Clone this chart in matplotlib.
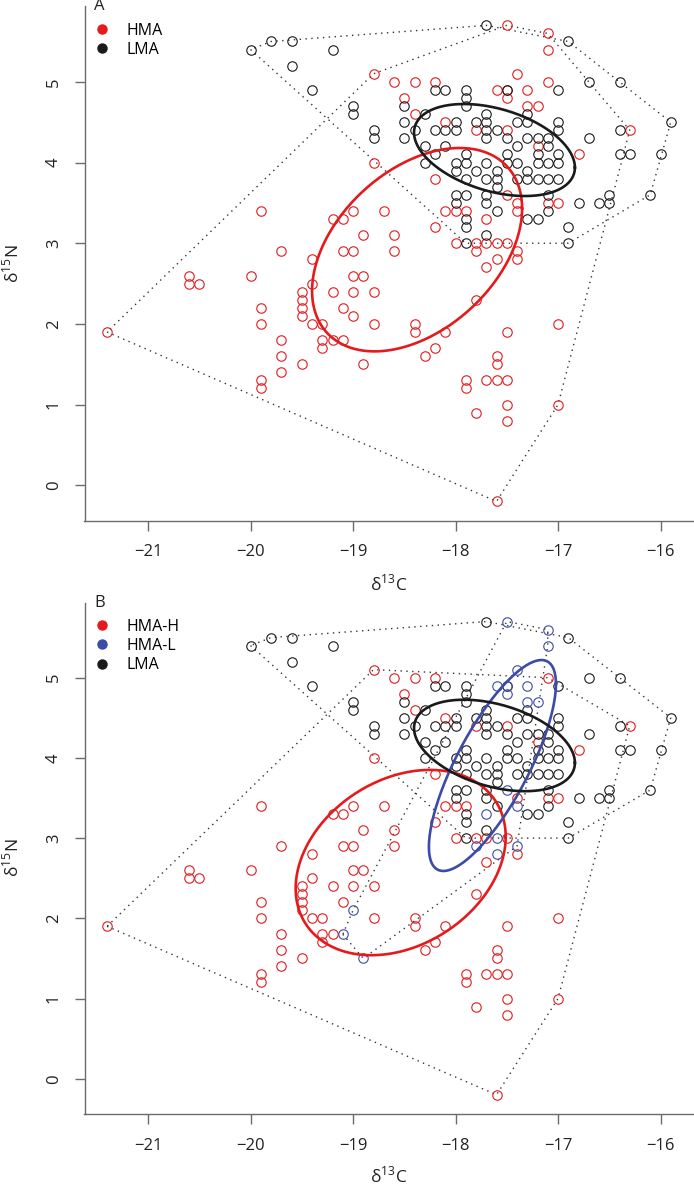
import matplotlib.pyplot as plt
import numpy as np
from matplotlib.lines import Line2D

plt.rcParams['font.family'] = ['Open Sans', 'DejaVu Sans']
plt.rcParams['mathtext.fontset'] = 'custom'
plt.rcParams['mathtext.rm'] = 'Open Sans'

# isotope values (d13C, d15N)
hma_h = np.array([
    (-18.8, 5.1), (-18.6, 5.0), (-18.4, 5.0), (-18.2, 5.0), (-17.1, 5.0),
    (-18.5, 4.8), (-18.4, 4.6), (-18.1, 4.5), (-17.8, 4.4), (-17.5, 4.4),
    (-16.3, 4.4), (-17.2, 4.2), (-16.8, 4.1), (-18.8, 4.0), (-18.2, 3.8),
    (-17.4, 3.5), (-17.1, 3.5), (-17.0, 3.5), (-19.0, 3.4), (-18.7, 3.4),
    (-18.1, 3.4), (-18.0, 3.4), (-17.9, 3.4), (-19.1, 3.3), (-18.2, 3.2),
    (-18.9, 3.1), (-18.6, 3.1), (-18.0, 3.0), (-17.8, 3.0), (-17.7, 3.0),
    (-17.5, 3.0), (-19.1, 2.9), (-19.0, 2.9), (-18.6, 2.9), (-17.4, 2.8),
    (-17.7, 2.7), (-19.0, 2.6), (-18.9, 2.6), (-19.0, 2.4), (-18.8, 2.4),
    (-17.8, 2.3), (-19.9, 3.4), (-19.2, 3.3), (-19.7, 2.9), (-19.4, 2.8),
    (-20.6, 2.6), (-20.6, 2.5), (-20.5, 2.5), (-20.0, 2.6), (-19.4, 2.5),
    (-19.5, 2.4), (-19.2, 2.4), (-19.5, 2.3), (-19.5, 2.2), (-19.9, 2.2),
    (-19.1, 2.2), (-19.5, 2.1), (-19.9, 2.0), (-19.4, 2.0), (-19.3, 2.0),
    (-18.8, 2.0), (-18.4, 2.0), (-18.4, 1.9), (-19.7, 1.8), (-19.3, 1.8),
    (-19.2, 1.8), (-19.3, 1.7), (-19.7, 1.6), (-19.7, 1.4), (-19.5, 1.5),
    (-19.9, 1.3), (-19.9, 1.2), (-21.4, 1.9), (-18.3, 1.6), (-18.2, 1.7),
    (-18.1, 1.9), (-17.0, 2.0), (-17.5, 1.9), (-17.6, 1.6), (-17.6, 1.5),
    (-17.9, 1.3), (-17.9, 1.2), (-17.7, 1.3), (-17.6, 1.3), (-17.5, 1.3),
    (-17.5, 1.0), (-17.5, 0.8), (-17.8, 0.9), (-17.0, 1.0), (-17.6, -0.2),
])

hma_l = np.array([
    (-17.5, 5.7), (-17.1, 5.6), (-17.1, 5.4), (-17.4, 5.1), (-17.6, 4.9),
    (-17.5, 4.9), (-17.3, 4.9), (-17.5, 4.8), (-17.3, 4.7), (-17.2, 4.7),
    (-17.5, 3.6), (-17.4, 3.4), (-17.7, 3.3), (-17.6, 3.0), (-17.8, 2.9),
    (-17.4, 2.9), (-17.6, 2.8), (-19.0, 2.1), (-19.1, 1.8), (-18.9, 1.5),
])

lma = np.array([
    (-20.0, 5.4), (-19.8, 5.5), (-19.6, 5.5), (-19.2, 5.4), (-19.6, 5.2),
    (-19.4, 4.9), (-19.0, 4.7), (-19.0, 4.6), (-17.7, 5.7), (-16.9, 5.5),
    (-16.7, 5.0), (-16.4, 5.0), (-18.2, 4.9), (-18.1, 4.9), (-17.9, 4.9),
    (-17.5, 4.9), (-17.0, 4.9), (-17.9, 4.8), (-18.5, 4.7), (-17.9, 4.7),
    (-18.3, 4.6), (-17.7, 4.6), (-17.3, 4.6), (-18.5, 4.5), (-18.0, 4.5),
    (-17.8, 4.5), (-17.7, 4.5), (-17.4, 4.5), (-17.3, 4.5), (-17.0, 4.5),
    (-15.9, 4.5), (-18.8, 4.4), (-18.4, 4.4), (-18.2, 4.4), (-18.1, 4.4),
    (-18.0, 4.4), (-17.7, 4.4), (-17.6, 4.4), (-17.0, 4.4), (-16.4, 4.4),
    (-18.8, 4.3), (-18.5, 4.3), (-17.7, 4.3), (-17.5, 4.3), (-17.3, 4.3),
    (-17.2, 4.3), (-17.1, 4.3), (-16.7, 4.3), (-18.3, 4.2), (-18.1, 4.2),
    (-17.4, 4.2), (-17.1, 4.2), (-18.2, 4.1), (-17.9, 4.1), (-17.5, 4.1),
    (-17.2, 4.1), (-17.0, 4.1), (-16.4, 4.1), (-16.3, 4.1), (-16.0, 4.1),
    (-18.3, 4.0), (-18.0, 4.0), (-17.9, 4.0), (-17.7, 4.0), (-17.5, 4.0),
    (-17.4, 4.0), (-17.2, 4.0), (-17.1, 4.0), (-17.0, 4.0), (-18.0, 3.9),
    (-17.8, 3.9), (-17.6, 3.9), (-17.3, 3.9), (-17.9, 3.8), (-17.7, 3.8),
    (-17.6, 3.8), (-17.4, 3.8), (-17.3, 3.8), (-17.2, 3.8), (-17.1, 3.8),
    (-17.0, 3.8), (-17.6, 3.7), (-18.0, 3.6), (-17.9, 3.6), (-17.7, 3.6),
    (-17.1, 3.6), (-16.5, 3.6), (-16.1, 3.6), (-18.0, 3.5), (-17.7, 3.5),
    (-16.8, 3.5), (-16.6, 3.5), (-16.5, 3.5), (-17.6, 3.4), (-17.1, 3.4),
    (-17.9, 3.3), (-17.3, 3.3), (-17.2, 3.3), (-17.9, 3.2), (-16.9, 3.2),
    (-17.7, 3.1), (-17.9, 3.0), (-16.9, 3.0),
])

# standard ellipses: mean and covariance
ell_hma = ((-18.375, 2.92), [[1.05, 0.523], [0.523, 1.588]])
ell_hma_h = ((-18.535, 2.695), [[1.05, 0.33], [0.33, 1.334]])
ell_hma_l = ((-17.64, 3.905), [[0.384, 0.629], [0.629, 1.729]])
ell_lma = ((-17.62, 4.155), [[0.616, -0.17], [-0.17, 0.325]])

x_ticks = [-21, -20, -19, -18, -17, -16]
y_ticks = [0, 1, 2, 3, 4, 5]

RED = '#e41a1c'
BLUE = '#3b4ba6'
BLACK = '#1a1a1a'


def convex_hull(points):
    pts = sorted(set(map(tuple, points)))

    def cross(o, a, b):
        return (a[0] - o[0]) * (b[1] - o[1]) - (a[1] - o[1]) * (b[0] - o[0])

    lower, upper = [], []
    for p in pts:
        while len(lower) >= 2 and cross(lower[-2], lower[-1], p) <= 0:
            lower.pop()
        lower.append(p)
    for p in reversed(pts):
        while len(upper) >= 2 and cross(upper[-2], upper[-1], p) <= 0:
            upper.pop()
        upper.append(p)
    hull = lower[:-1] + upper[:-1]
    hull.append(hull[0])
    return np.array(hull)


def ellipse_xy(mean, cov, n=300):
    t = np.linspace(0, 2 * np.pi, n)
    chol = np.linalg.cholesky(np.array(cov))
    return np.array(mean)[:, None] + chol @ np.vstack([np.cos(t), np.sin(t)])


def draw_group(ax, pts, color, hull=True):
    if hull:
        h = convex_hull(pts)
        ax.plot(h[:, 0], h[:, 1], color='#333333', lw=1.0, ls=(0, (1, 3.2)), zorder=1)
    ax.plot(pts[:, 0], pts[:, 1], ls='none', marker='o', ms=6.8, mfc='none',
            mec=color, mew=0.8, zorder=2)


def style(ax, letter, labels, colors):
    ax.set_xlim(-21.62, -15.68)
    ax.set_ylim(-0.436, 5.936)
    for s in ['top', 'right']:
        ax.spines[s].set_visible(False)
    for s in ['left', 'bottom']:
        ax.spines[s].set_color('#6b6b6b')
        ax.spines[s].set_linewidth(1.0)
    ax.set_xticks(x_ticks)
    ax.set_yticks(y_ticks)
    ax.tick_params(direction='out', length=7.2, width=1.0, color='#6b6b6b',
                   labelsize=12, labelcolor='#222222')
    ax.tick_params(axis='x', pad=10)
    ax.tick_params(axis='y', pad=9)
    ax.set_yticklabels([str(v) for v in y_ticks], rotation=90, va='center')
    ax.set_xlabel(r'δ$^{13}$C', fontsize=12.5, color='#222222', va='center')
    ax.xaxis.set_label_coords(0.5, -63 / 512)
    ax.set_ylabel(r'δ$^{15}$N', fontsize=12.5, color='#222222', va='center')
    ax.yaxis.set_label_coords(-72 / 609, 0.5)
    ax.text(10 / 609, 1.0, letter, transform=ax.transAxes, fontsize=12,
            color='#222222', ha='left', va='center')
    handles = [Line2D([], [], ls='none', marker='o', ms=6.5, color=c) for c in colors]
    ax.legend(handles, labels, loc='upper left', bbox_to_anchor=(0.0, 0.987),
              frameon=False, fontsize=11.5, handlelength=1.0, handletextpad=1.0,
              labelspacing=0.2, borderpad=0.3, borderaxespad=0.3)


fig = plt.figure(figsize=(6.94, 11.89), dpi=100)
ax_a = fig.add_axes([84.5 / 694, 1 - 520.5 / 1189, 608.8 / 694, 514.2 / 1189])
ax_b = fig.add_axes([84.5 / 694, 1 - 1113.7 / 1189, 608.8 / 694, 511.1 / 1189])

# panel A: HMA vs LMA
hma = np.vstack([hma_h, hma_l])
draw_group(ax_a, hma, RED)
draw_group(ax_a, lma, BLACK)
for (mean, cov), c in [(ell_hma, RED), (ell_lma, BLACK)]:
    e = ellipse_xy(mean, cov)
    ax_a.plot(e[0], e[1], color=c, lw=1.9, zorder=3)
style(ax_a, 'A', ['HMA', 'LMA'], [RED, BLACK])

# panel B: HMA split into HMA-H and HMA-L
draw_group(ax_b, hma_h, RED)
draw_group(ax_b, lma, BLACK)
draw_group(ax_b, hma_l, BLUE)
for (mean, cov), c in [(ell_hma_h, RED), (ell_hma_l, BLUE), (ell_lma, BLACK)]:
    e = ellipse_xy(mean, cov)
    ax_b.plot(e[0], e[1], color=c, lw=1.9, zorder=3)
style(ax_b, 'B', ['HMA-H', 'HMA-L', 'LMA'], [RED, BLUE, BLACK])

fig.savefig('out.png', dpi=100)
plt.close(fig)
